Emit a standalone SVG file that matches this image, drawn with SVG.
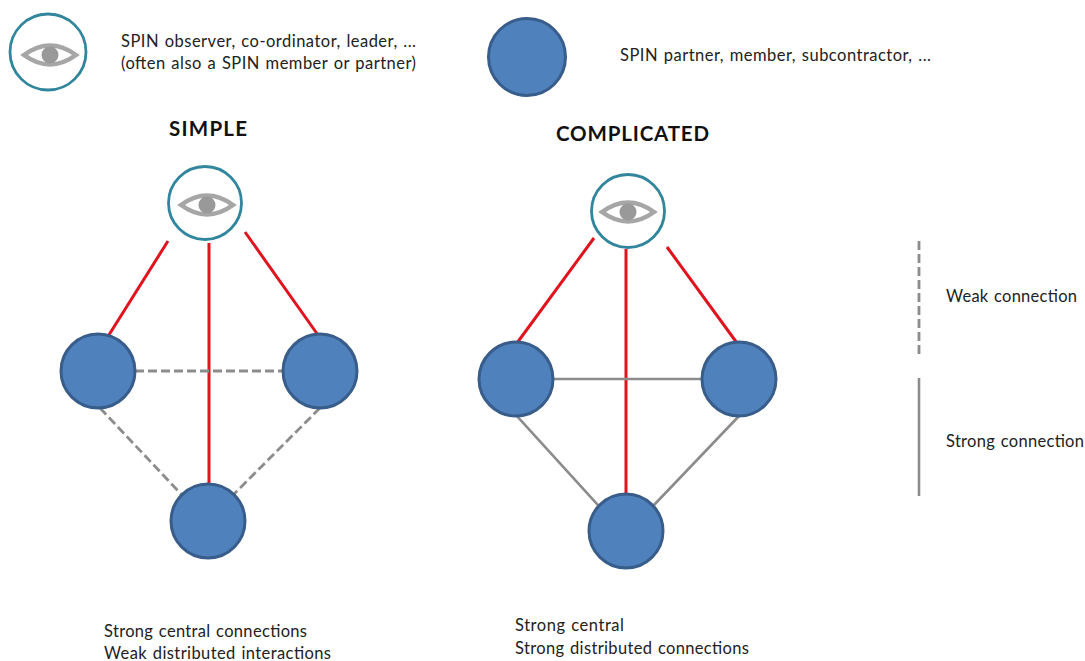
<svg xmlns="http://www.w3.org/2000/svg" width="1085" height="661" viewBox="0 0 1085 661">
<style>
text{font-family:"Lato","Open Sans",sans-serif;fill:#222;font-size:16.500px;word-spacing:1px}
.h{font-weight:bold;font-size:20.500px;fill:#111}
.b{fill:#4f81bd;stroke:#385d8a;stroke-width:3}
.o{fill:#fff;stroke:#31859c;stroke-width:2.8}
.e{fill:#fff;stroke:#a6a6a6;stroke-width:4.500}
.p{fill:#999}
.r{stroke:#e0141e;stroke-width:3;fill:none}
.w{stroke:#8c8c8c;stroke-width:2.800;stroke-dasharray:9 4;fill:none}
.s{stroke:#8c8c8c;stroke-width:2.600;fill:none}
</style>
<defs>
<g id="eye"><path class="e" d="M-26 0Q0 -19 26 0Q0 19 -26 0Z"/><circle class="p" r="8.500"/></g>
</defs>
<g id="connectors">
<path class="r" d="M168 241L107 338M209 243V484M245 232L318 335"/>
<path class="w" d="M135 371H283M100 408L181 494M320 408L234 494"/>
<path class="r" d="M594 238L517 343M626 249V494M667 247L737 343"/>
<path class="s" d="M553 379H702M517 416L598 505M739 416L654 505"/>
<path class="w" d="M919 241V354"/>
<path class="s" d="M919 378V496"/>
</g>
<g id="legend-observer"><circle class="o" cx="48" cy="52" r="38"/><use href="#eye" x="50" y="55"/><text x="121" y="47" textLength="295">SPIN observer, co-ordinator, leader, ...</text><text x="121" y="69" textLength="295">(often also a SPIN member or partner)</text></g>
<g id="legend-partner"><circle class="b" cx="527" cy="57" r="38.500"/><text x="620" y="61" textLength="311">SPIN partner, member, subcontractor, ...</text></g>
<g id="simple-title"><text class="h" x="169" y="136" textLength="78">SIMPLE</text></g>
<g id="complicated-title"><text class="h" x="556" y="141" textLength="153">COMPLICATED</text></g>
<g id="s-top"><circle class="o" cx="205" cy="203" r="36.500"/><use href="#eye" x="207" y="205"/></g>
<g id="s-left"><circle class="b" cx="98" cy="371" r="37"/></g>
<g id="s-right"><circle class="b" cx="320" cy="371" r="37"/></g>
<g id="s-bottom"><circle class="b" cx="208" cy="521" r="37"/></g>
<g id="c-top"><circle class="o" cx="628" cy="211" r="36.500"/><use href="#eye" x="628" y="212"/></g>
<g id="c-left"><circle class="b" cx="516" cy="379" r="37"/></g>
<g id="c-right"><circle class="b" cx="739" cy="379" r="37"/></g>
<g id="c-bottom"><circle class="b" cx="626" cy="531" r="37"/></g>
<g id="labels">
<text x="946" y="302" textLength="131">Weak connection</text>
<text x="946" y="447" textLength="138">Strong connection</text>
<text x="104" y="637" textLength="203">Strong central connections</text>
<text x="104" y="659" textLength="227">Weak distributed interactions</text>
<text x="515" y="631" textLength="109">Strong central</text>
<text x="515" y="654" textLength="234">Strong distributed connections</text>
</g>
</svg>
